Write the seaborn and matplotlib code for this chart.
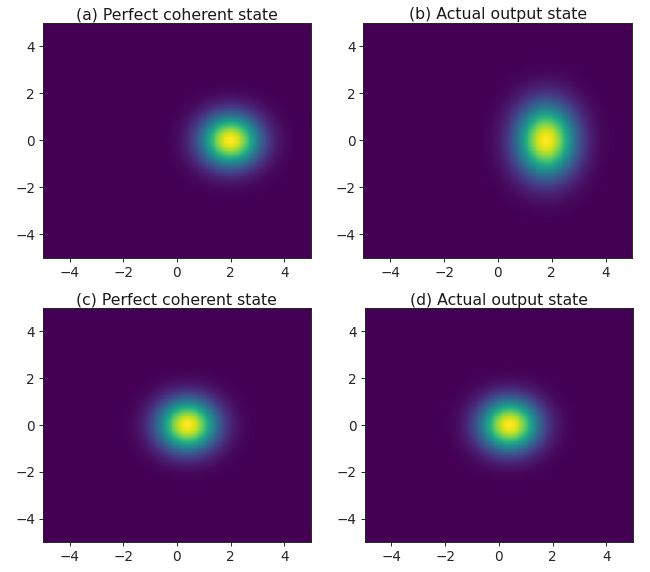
import numpy as np
import matplotlib
matplotlib.use("Agg")
import matplotlib.pyplot as plt
import seaborn as sns

# panel titles and blob parameters
titles = ["(a) Perfect coherent state", "(b) Actual output state",
          "(c) Perfect coherent state", "(d) Actual output state"]
center_x = [2.0, 1.8, 0.4, 0.4]
center_y = [0.0, 0.0, 0.0, 0.0]
sigma_x = [0.76, 0.76, 0.76, 0.76]
sigma_y = [0.76, 1.05, 0.76, 0.76]
tick_vals = [-4, -2, 0, 2, 4]
lim = 5.0
n = 300

grid = np.linspace(-lim, lim, n)
X, Y = np.meshgrid(grid, grid)
dx = 2 * lim / n

fig = plt.figure(figsize=(6.5, 5.72), dpi=100)
positions = [
    [0.0657, 0.549, 0.413, 0.411],
    [0.559, 0.549, 0.414, 0.411],
    [0.0657, 0.0524, 0.413, 0.409],
    [0.561, 0.0524, 0.413, 0.409],
]

for k in range(4):
    ax = fig.add_axes(positions[k])
    Z = np.exp(-((X - center_x[k]) ** 2) / (2 * sigma_x[k] ** 2)
               - ((Y - center_y[k]) ** 2) / (2 * sigma_y[k] ** 2))
    # flip rows so that y = +5 is at the top of the heatmap
    sns.heatmap(Z[::-1], ax=ax, cmap="viridis", cbar=False,
                xticklabels=False, yticklabels=False, rasterized=True)
    ax.set_xticks([(v + lim) / dx for v in tick_vals])
    ax.set_xticklabels([str(v).replace("-", "\u2212") for v in tick_vals])
    ax.set_yticks([(lim - v) / dx for v in tick_vals])
    ax.set_yticklabels([str(v).replace("-", "\u2212") for v in tick_vals], rotation=0)
    ax.tick_params(axis="both", length=3, width=0.7, labelsize=9.8, colors="#262626",
                   bottom=True, left=True, pad=2.5)
    for s in ax.spines.values():
        s.set_visible(True)
        s.set_linewidth(0.7)
        s.set_color("#262626")
    ax.set_title(titles[k], fontsize=11.3, pad=2.5, color="#1a1a1a")

fig.savefig("out.png", dpi=100)
